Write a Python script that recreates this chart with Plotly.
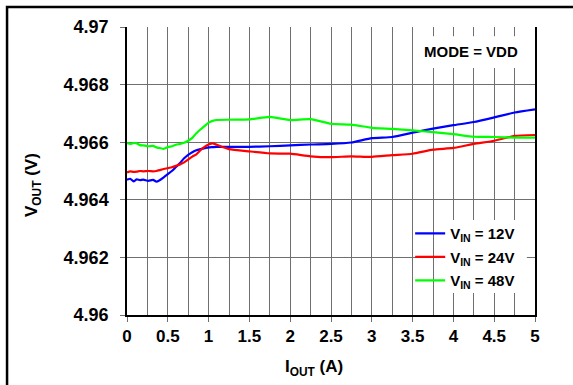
import plotly.graph_objects as go

# Output current (A)
i_out = [0, 0.04, 0.08, 0.12, 0.16, 0.2, 0.26, 0.32, 0.36, 0.4, 0.45, 0.5, 0.55, 0.6,
         0.65, 0.7, 0.75, 0.8, 0.85, 0.9, 0.95, 1.0, 1.05, 1.1, 1.25, 1.5, 1.75, 2.0,
         2.25, 2.5, 2.75, 3.0, 3.25, 3.5, 3.75, 4.0, 4.25, 4.5, 4.75, 5.0]

# Output voltage (V) for each input voltage
vout_12v = [4.96470, 4.96473, 4.96464, 4.96471, 4.96468, 4.96470, 4.96466, 4.96469,
            4.96463, 4.96468, 4.96478, 4.96489, 4.96500, 4.96514, 4.96528, 4.96544,
            4.96556, 4.96565, 4.96572, 4.96576, 4.96579, 4.96582, 4.96583, 4.96584,
            4.96584, 4.96584, 4.96586, 4.96589, 4.96592, 4.96594, 4.96599, 4.96614,
            4.96618, 4.96633, 4.96647, 4.96659, 4.96670, 4.96686, 4.96703, 4.96714]

vout_24v = [4.96495, 4.96499, 4.96497, 4.96498, 4.96500, 4.96499, 4.96500, 4.96499,
            4.96500, 4.96503, 4.96507, 4.96510, 4.96513, 4.96518, 4.96523, 4.96530,
            4.96540, 4.96550, 4.96558, 4.96572, 4.96584, 4.96592, 4.96596, 4.96591,
            4.96576, 4.96568, 4.96561, 4.96560, 4.96551, 4.96548, 4.96551, 4.96549,
            4.96555, 4.96560, 4.96574, 4.96580, 4.96594, 4.96605, 4.96622, 4.96625]

vout_48v = [4.96597, 4.96594, 4.96597, 4.96596, 4.96590, 4.96589, 4.96586, 4.96587,
            4.96582, 4.96580, 4.96577, 4.96583, 4.96586, 4.96591, 4.96594, 4.96598,
            4.96605, 4.96615, 4.96631, 4.96644, 4.96656, 4.96668, 4.96674, 4.96677,
            4.96678, 4.96679, 4.96688, 4.96677, 4.96680, 4.96664, 4.96661, 4.96650,
            4.96646, 4.96641, 4.96635, 4.96628, 4.96619, 4.96618, 4.96616, 4.96616]

series_names = ["V<sub>IN</sub> = 12V", "V<sub>IN</sub> = 24V", "V<sub>IN</sub> = 48V"]
series_colors = ["#0000ff", "#ff0000", "#00ff00"]

y_tick_vals = [4.96, 4.962, 4.964, 4.966, 4.968, 4.97]
y_tick_text = ["4.96", "4.962", "4.964", "4.966", "4.968", "4.97"]

FONT = "Liberation Sans, Arial, sans-serif"
GRID = "#6f6f6f"

fig = go.Figure()
for name, ys, col, grp in zip(series_names, [vout_12v, vout_24v, vout_48v],
                              series_colors, ["a", "b", "c"]):
    fig.add_trace(go.Scatter(
        x=i_out, y=ys, mode="lines", name=name, legendgroup=grp,
        line=dict(color=col, width=2.2, shape="spline", smoothing=0.5),
    ))

fig.update_layout(
    width=573, height=385,
    margin=dict(l=127, r=38, t=27, b=70),
    paper_bgcolor="white", plot_bgcolor="white",
    font=dict(family=FONT, color="black"),
    showlegend=True,
    legend=dict(
        x=0.694, y=0.201, xanchor="left", yanchor="middle",
        bgcolor="rgba(0,0,0,0)", borderwidth=0,
        font=dict(family=FONT, size=15, weight="bold", color="black"),
        tracegroupgap=1, itemwidth=30,
    ),
    xaxis=dict(
        range=[0, 5], tick0=0, dtick=0.5,
        ticks="outside", ticklen=5, tickcolor=GRID, tickwidth=1,
        showgrid=True, gridcolor=GRID, gridwidth=1,
        minor=dict(dtick=0.25, showgrid=True, gridcolor=GRID, gridwidth=1),
        showline=True, linecolor="black", linewidth=1.5,
        tickfont=dict(family=FONT, size=17, weight="bold"),
        zeroline=False,
    ),
    yaxis=dict(
        range=[4.96, 4.97], tickvals=y_tick_vals, ticktext=y_tick_text,
        ticks="outside", ticklen=5, tickcolor=GRID, tickwidth=1,
        showgrid=True, gridcolor=GRID, gridwidth=1,
        showline=True, linecolor="black", linewidth=1.5, mirror=True,
        tickfont=dict(family=FONT, size=18, weight="bold"),
        ticklabelstandoff=8,
        zeroline=False,
    ),
)

# white panels behind the annotation text and the legend
fig.add_shape(type="rect", xref="x", yref="y", x0=3.62, x1=5.0, y0=4.96858, y1=4.96968,
              fillcolor="white", line=dict(width=0), layer="between")
fig.add_shape(type="rect", xref="x", yref="y", x0=3.9, x1=4.9, y0=4.96076, y1=4.96330,
              fillcolor="white", line=dict(width=0), layer="between")

# outer frame
fig.add_shape(type="rect", xref="paper", yref="paper", x0=-0.294, x1=1.3, y0=-0.4, y1=1.0694,
              line=dict(color="black", width=2.5), fillcolor="rgba(0,0,0,0)")

fig.add_annotation(text="MODE = VDD", xref="paper", yref="paper", x=0.844, y=0.915,
                   showarrow=False, xanchor="center", yanchor="middle",
                   font=dict(family=FONT, size=15, weight="bold"))
fig.add_annotation(text="I<sub>OUT</sub> (A)", xref="paper", yref="paper", x=0.458, y=-0.184,
                   showarrow=False, xanchor="center", yanchor="middle",
                   font=dict(family=FONT, size=17, weight="bold"))
fig.add_annotation(text="V<sub>OUT</sub> (V)", xref="paper", yref="paper", x=-0.23, y=0.452,
                   showarrow=False, xanchor="center", yanchor="middle", textangle=-90,
                   font=dict(family=FONT, size=17, weight="bold"))

fig.write_html("out.html")
